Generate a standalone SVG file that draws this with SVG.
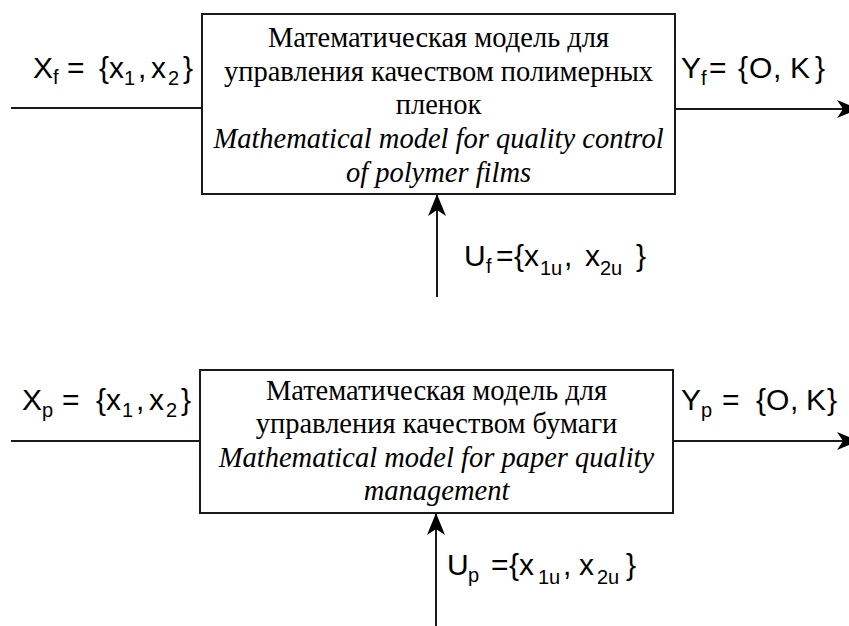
<svg xmlns="http://www.w3.org/2000/svg" width="849" height="626" viewBox="0 0 849 626">
<style>
.box{fill:#fff;stroke:#1a1a1a;stroke-width:2}
.ln{fill:none;stroke:#1a1a1a;stroke-width:2}
.bt{font-family:"Liberation Serif","Times New Roman",serif;font-size:28.5px;fill:#000;text-anchor:middle}
.it{font-style:italic}
.lb{font-family:"Liberation Sans",Arial,sans-serif;font-size:30px;fill:#000}
.sb{font-size:20px}
</style>
<defs>
<marker id="arr" viewBox="0 0 22 18" refX="21" refY="9" markerWidth="22" markerHeight="18" markerUnits="userSpaceOnUse" orient="auto">
<path d="M0,0 L22,9 L0,18 L6,9 Z" fill="#000"/>
</marker>
</defs>
<rect width="849" height="626" fill="#fff"/>
<g id="connectors">
<line class="ln" x1="11" y1="108" x2="202" y2="108"/>
<line class="ln" x1="675" y1="109" x2="858" y2="109" marker-end="url(#arr)"/>
<line class="ln" x1="437" y1="297" x2="437" y2="195" marker-end="url(#arr)"/>
<line class="ln" x1="11" y1="441" x2="200" y2="441"/>
<line class="ln" x1="673" y1="441" x2="858" y2="441" marker-end="url(#arr)"/>
<line class="ln" x1="436" y1="640" x2="436" y2="514" marker-end="url(#arr)"/>
</g>
<g id="model-films">
<rect class="box" x="202" y="14" width="473" height="180"/>
<text class="bt" x="438.5" y="47">Математическая модель для</text>
<text class="bt" x="438.5" y="81">управления качеством полимерных</text>
<text class="bt" x="438.5" y="114">пленок</text>
<text class="bt it" x="438.5" y="148">Mathematical model for quality control</text>
<text class="bt it" x="438.5" y="182">of polymer films</text>
</g>
<g id="model-paper">
<rect class="box" x="200" y="370" width="473" height="143"/>
<text class="bt" x="436.5" y="400">Математическая модель для</text>
<text class="bt" x="436.5" y="433">управления качеством бумаги</text>
<text class="bt it" x="436.5" y="467">Mathematical model for paper quality</text>
<text class="bt it" x="436.5" y="500">management</text>
</g>
<g id="label-xf">
<text class="lb" y="78"><tspan x="33">X</tspan><tspan class="sb" x="53" y="84">f</tspan><tspan x="67" y="78">=</tspan><tspan x="99">{</tspan><tspan x="109">x</tspan><tspan class="sb" x="124" y="85">1</tspan><tspan x="138" y="78">,</tspan><tspan x="151">x</tspan><tspan class="sb" x="168" y="85">2</tspan><tspan x="183" y="78">}</tspan></text>
</g>
<g id="label-yf">
<text class="lb" y="78"><tspan x="681">Y</tspan><tspan class="sb" x="701" y="85">f</tspan><tspan x="709" y="78">=</tspan><tspan x="738">{</tspan><tspan x="749">O</tspan><tspan x="773">,</tspan><tspan x="790">K</tspan><tspan x="815">}</tspan></text>
</g>
<g id="label-uf">
<text class="lb" y="266"><tspan x="464">U</tspan><tspan class="sb" x="486" y="273">f</tspan><tspan x="496" y="266">=</tspan><tspan x="514">{</tspan><tspan x="524">x</tspan><tspan class="sb" x="540" y="275">1u</tspan><tspan x="564" y="266">,</tspan><tspan x="585">x</tspan><tspan class="sb" x="600" y="275">2u</tspan><tspan x="636" y="266">}</tspan></text>
</g>
<g id="label-xp">
<text class="lb" y="410"><tspan x="22">X</tspan><tspan class="sb" x="42" y="417">p</tspan><tspan x="62" y="410">=</tspan><tspan x="96">{</tspan><tspan x="106">x</tspan><tspan class="sb" x="122" y="417">1</tspan><tspan x="136" y="410">,</tspan><tspan x="149">x</tspan><tspan class="sb" x="166" y="417">2</tspan><tspan x="181" y="410">}</tspan></text>
</g>
<g id="label-yp">
<text class="lb" y="410"><tspan x="681">Y</tspan><tspan class="sb" x="701" y="417">p</tspan><tspan x="722" y="410">=</tspan><tspan x="756">{</tspan><tspan x="766">O</tspan><tspan x="790">,</tspan><tspan x="806">K</tspan><tspan x="827">}</tspan></text>
</g>
<g id="label-up">
<text class="lb" y="575"><tspan x="447">U</tspan><tspan class="sb" x="468" y="582">p</tspan><tspan x="491" y="575">=</tspan><tspan x="509">{</tspan><tspan x="519">x</tspan><tspan class="sb" x="538" y="584">1u</tspan><tspan x="563" y="575">,</tspan><tspan x="579">x</tspan><tspan class="sb" x="597" y="584">2u</tspan><tspan x="626" y="575">}</tspan></text>
</g>
</svg>
